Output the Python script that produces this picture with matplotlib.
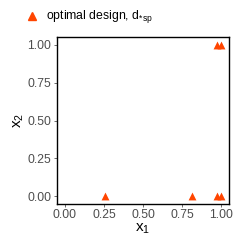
import matplotlib
matplotlib.use("Agg")
import matplotlib.pyplot as plt

plt.rcParams['font.family'] = ['Liberation Sans', 'DejaVu Sans']
plt.rcParams['mathtext.fontset'] = 'custom'
plt.rcParams['mathtext.rm'] = 'Liberation Sans'
plt.rcParams['mathtext.it'] = 'Liberation Sans'

# design points
x1 = [0.255, 0.81, 0.975, 0.998, 0.975, 0.998]
x2 = [0.0, 0.0, 0.0, 0.0, 1.0, 1.0]
ticks = [0.0, 0.25, 0.5, 0.75, 1.0]
tick_labels = ["0.00", "0.25", "0.50", "0.75", "1.00"]
col = "#FF4500"

fig = plt.figure(figsize=(2.49, 2.49), dpi=100)
ax = fig.add_axes([0.229, 0.181, 0.691, 0.670])
ax.scatter(x1, x2, marker="^", s=32, color=col, linewidths=0, zorder=3, clip_on=False)
ax.set_xlim(-0.05, 1.05)
ax.set_ylim(-0.05, 1.05)
ax.set_xticks(ticks)
ax.set_xticklabels(tick_labels)
ax.set_yticks(ticks)
ax.set_yticklabels(tick_labels)
ax.tick_params(axis='both', length=2, width=0.5, color='#333333', labelsize=8.8,
               labelcolor='#4D4D4D', pad=2)
for s in ax.spines.values():
    s.set_linewidth(1.0)
    s.set_color('black')
ax.set_xlabel(r"x$_1$", fontsize=11, labelpad=0)
ax.set_ylabel(r"x$_2$", fontsize=11, labelpad=1)

# legend at top
fig.lines.append(plt.Line2D([32 / 249], [1 - 16 / 249], marker="^", markersize=5.5,
                            color=col, linestyle='none', transform=fig.transFigure))
fig.text(46 / 249, 1 - 16 / 249, r"optimal design, d$_{*\mathrm{sp}}$", fontsize=8.8,
         va='center', ha='left')

fig.savefig("out.png", dpi=100)
